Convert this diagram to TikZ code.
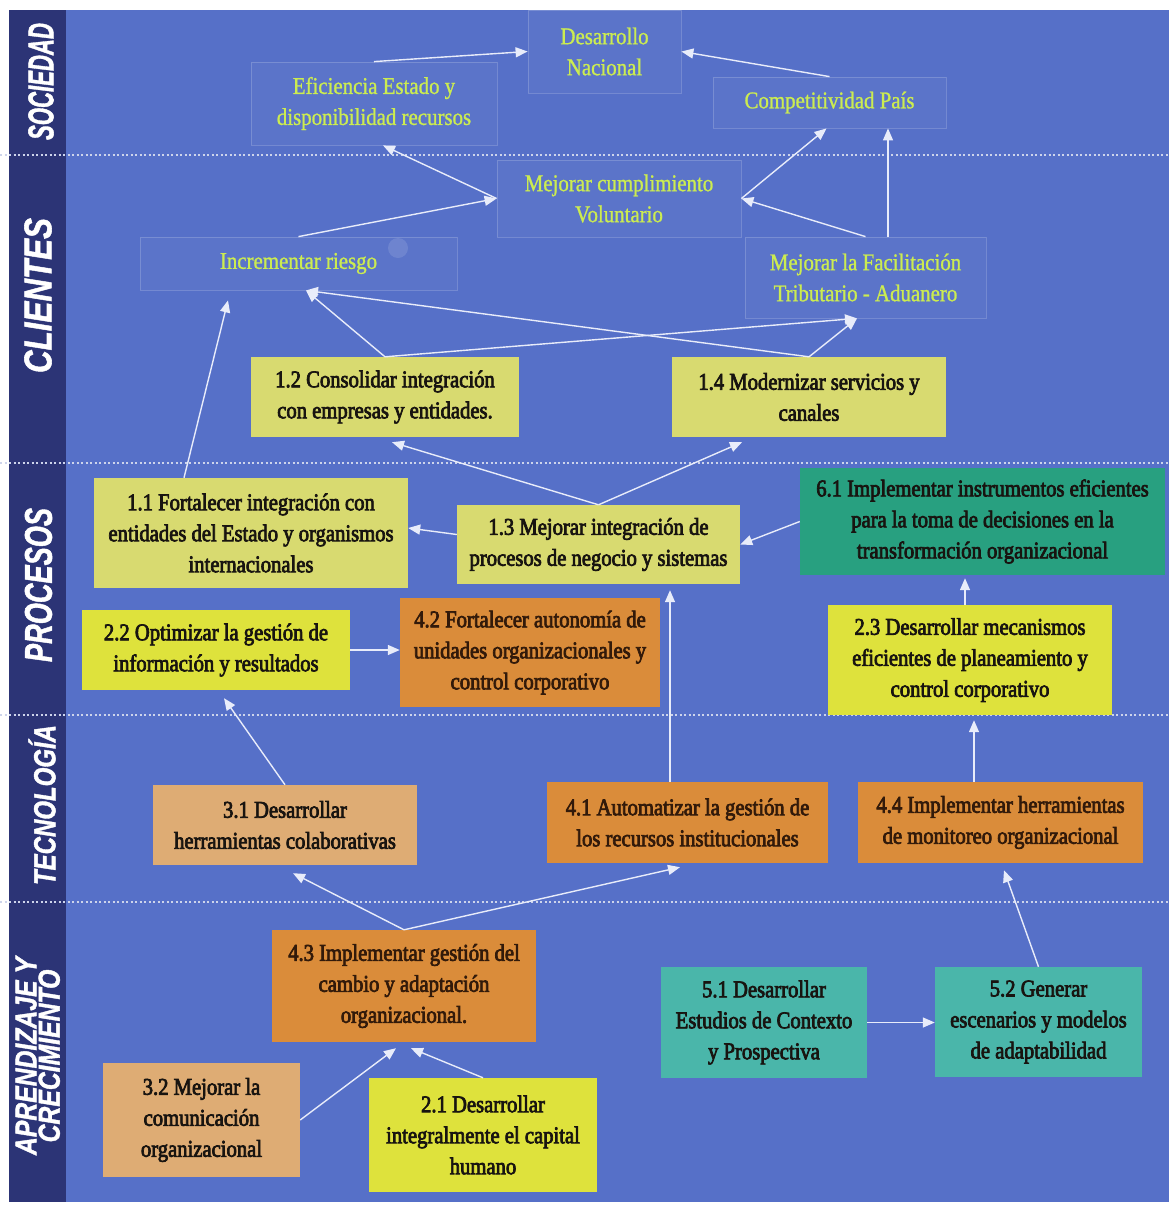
\documentclass[tikz,border=0pt]{standalone}
\usepackage{fontspec}
\usepackage{graphicx}
\usetikzlibrary{arrows.meta,calc}

\newfontfamily\boxfont[FakeStretch=0.86,FakeBold=3]{Liberation Serif}
\newfontfamily\goalfont[FakeStretch=0.87,FakeBold=1]{Liberation Serif}
\newfontfamily\lanefont[FakeBold=1.5]{Liberation Sans}

\definecolor{panelc}{RGB}{86,112,200}
\definecolor{navyc}{RGB}{44,52,118}
\definecolor{sepc}{RGB}{205,212,235}
\definecolor{limec}{RGB}{204,236,80}
\definecolor{khakic}{RGB}{216,218,112}
\definecolor{yellowc}{RGB}{222,226,60}
\definecolor{orangec}{RGB}{218,140,58}
\definecolor{tanc}{RGB}{222,172,116}
\definecolor{tealc}{RGB}{40,160,128}
\definecolor{aquac}{RGB}{74,182,170}
\definecolor{inkc}{RGB}{24,20,16}
\definecolor{brownc}{RGB}{50,26,10}
\definecolor{arrowc}{RGB}{232,236,250}

\tikzset{
  goal/.style={rectangle, inner sep=0pt, align=center,
    font=\goalfont\fontsize{24}{31}\selectfont, text=limec,
    draw=white, draw opacity=0.18, fill=white, fill opacity=0.03,
    text opacity=1, line width=0.8pt},
  obj/.style={rectangle, inner sep=0pt, align=center,
    font=\boxfont\fontsize{24}{31}\selectfont, text=inkc},
  sz/.style 2 args={minimum width=#1pt, minimum height=#2pt},
  link/.style={draw=arrowc, line width=1.4pt, -{Triangle[length=12pt,width=10pt]}},
  lanesep/.style={draw=sepc, line width=2pt, dash pattern=on 2pt off 2.5pt},
  lanelabel/.style={inner sep=0pt, rotate=90, text=white,
    font=\lanefont\bfseries\itshape\fontsize{30}{30}\selectfont}
}

\begin{document}
\begin{tikzpicture}[x=1pt, y=-1pt]
  \useasboundingbox (0,0) rectangle (1169,1205);
  \fill[white] (0,0) rectangle (1169,1205);

  % panel and perspective column
  \fill[panelc] (66,10) rectangle (1169,1202);
  \fill[navyc] (9,10) rectangle (66,1202);

  % lane separators
  \foreach \yy in {155,463,715,902}
    \draw[lanesep] (0,\yy) -- (1169,\yy);

  % perspective names
  \node[lanelabel] (lsoc) at (41,81.5) {\resizebox{117pt}{25pt}{SOCIEDAD}};
  \node[lanelabel] (lcli) at (38,295.5) {\resizebox{155pt}{27pt}{CLIENTES}};
  \node[lanelabel] (lpro) at (38.5,585) {\resizebox{154pt}{27pt}{PROCESOS}};
  \node[lanelabel] (ltec) at (42,805) {\resizebox{160pt}{27pt}{TECNOLOGÍA}};
  \node[lanelabel] (lapr) at (42,1056) {\resizebox{198pt}{33pt}{\begin{tabular}{@{}c@{}}APRENDIZAJE Y\\[-7pt]CRECIMIENTO\end{tabular}}};

  % soft spot near the risk box
  \fill[white, opacity=0.12] (398,248) circle (10);

  % society and client outcomes
  \node[goal, sz={153}{83}] (des) at (604.5,51.5) {Desarrollo\\Nacional};
  \node[goal, sz={246}{83}] (efi) at (374,103.5) {Eficiencia Estado y\\disponibilidad recursos};
  \node[goal, sz={233}{51}] (comp) at (829.5,102.5) {Competitividad País};
  \node[goal, sz={244}{77}] (mcv) at (619,198.5) {Mejorar cumplimiento\\Voluntario};
  \node[goal, sz={317}{53}] (inc) at (298.5,263.5) {Incrementar riesgo};
  \node[goal, sz={241}{81}] (fac) at (865.5,277.5) {Mejorar la Facilitación\\Tributario - Aduanero};

  % process objectives
  \node[obj, fill=khakic, sz={268}{80}] (n12) at (385,397) {1.2 Consolidar integración\\con empresas y entidades.};
  \node[obj, fill=khakic, sz={274}{80}] (n14) at (809,397) {1.4 Modernizar servicios y\\canales};
  \node[obj, fill=khakic, sz={314}{110}] (n11) at (251,533) {1.1 Fortalecer integración con\\entidades del Estado y organismos\\internacionales};
  \node[obj, fill=khakic, sz={283}{79}] (n13) at (598.5,544.5) {1.3 Mejorar integración de\\procesos de negocio y sistemas};
  \node[obj, fill=tealc, sz={365}{107}] (n61) at (982.5,521.5) {6.1 Implementar instrumentos eficientes\\para la toma de decisiones en la\\transformación organizacional};
  \node[obj, fill=yellowc, sz={268}{80}] (n22) at (216,650) {2.2 Optimizar la gestión de\\información y resultados};
  \node[obj, fill=orangec, text=brownc, sz={260}{109}] (n42) at (530,652.5) {4.2 Fortalecer autonomía de\\unidades organizacionales y\\control corporativo};
  \node[obj, fill=yellowc, sz={284}{110}] (n23) at (970,660) {2.3 Desarrollar mecanismos\\eficientes de planeamiento y\\control corporativo};

  % technology objectives
  \node[obj, fill=tanc, sz={264}{80}] (n31) at (285,825) {3.1 Desarrollar\\herramientas colaborativas};
  \node[obj, fill=orangec, text=brownc, sz={281}{81}] (n41) at (687.5,822.5) {4.1 Automatizar la gestión de\\los recursos institucionales};
  \node[obj, fill=orangec, text=brownc, sz={285}{81}] (n44) at (1000.5,822.5) {4.4 Implementar herramientas\\de monitoreo organizacional};

  % learning and growth objectives
  \node[obj, fill=orangec, text=brownc, sz={264}{112}] (n43) at (404,986) {4.3 Implementar gestión del\\cambio y adaptación\\organizacional.};
  \node[obj, fill=aquac, sz={206}{111}] (n51) at (764,1022.5) {5.1 Desarrollar\\Estudios de Contexto\\y Prospectiva};
  \node[obj, fill=aquac, sz={207}{110}] (n52) at (1038.5,1022) {5.2 Generar\\escenarios y modelos\\de adaptabilidad};
  \node[obj, fill=tanc, sz={197}{114}] (n32) at (201.5,1120) {3.2 Mejorar la\\comunicación\\organizacional};
  \node[obj, fill=yellowc, sz={228}{114}] (n21) at (483,1135) {2.1 Desarrollar\\integralmente el capital\\humano};

  % cause and effect links
  \draw[link] (efi.north) -- (des.west);
  \draw[link] (comp.north) -- (des.east);
  \draw[link] (mcv.west) -- ([xshift=9pt]efi.south);
  \draw[link] (inc.north) -- (mcv.west);
  \draw[link] (mcv.east) -- ([xshift=-3pt]comp.south);
  \draw[link] ([xshift=22.5pt]fac.north) -- ([xshift=58.5pt]comp.south);
  \draw[link] (fac.north) -- (mcv.east);

  \draw[link] ([xshift=-67pt]n11.north) -- ([xshift=-70.5pt,yshift=-10pt]inc.south);
  \draw[link] (n12.north) -- ([xshift=7.5pt]inc.south);
  \draw[link] (n14.north) -- ([xshift=7.5pt]inc.south);
  \draw[link] (n12.north) -- ([xshift=-8.5pt]fac.south);
  \draw[link] (n14.north) -- ([xshift=-8.5pt]fac.south);

  \draw[link] (n13.north) -- ([xshift=7pt,yshift=-5pt]n12.south);
  \draw[link] (n13.north) -- ([xshift=-67pt,yshift=-5pt]n14.south);
  \draw[link] ([yshift=10pt]n13.west) -- ([yshift=5pt]n11.east);
  \draw[link] (n61.west) -- (n13.east);
  \draw[link] ([xshift=-5pt]n23.north) -- ([xshift=-17.5pt,yshift=-3pt]n61.south);
  \draw[link] (n22.east) -- (n22.east -| n42.west);

  \draw[link] ([xshift=-17.5pt]n41.north) -- ([xshift=71.5pt,yshift=-6pt]n13.south);
  \draw[link] (n31.north) -- ([xshift=8pt,yshift=-8pt]n22.south);
  \draw[link] (n43.north) -- ([xshift=8pt,yshift=-8pt]n31.south);
  \draw[link] (n43.north) -- ([xshift=-7.5pt,yshift=-4pt]n41.south);
  \draw[link] ([xshift=-26.5pt]n44.north) -- ([xshift=4pt,yshift=-5pt]n23.south);
  \draw[link] (n52.north) -- ([xshift=3.5pt,yshift=-7pt]n44.south);
  \draw[link] (n51.east) -- (n51.east -| n52.west);
  \draw[link] (n32.east) -- ([xshift=-8pt,yshift=-6pt]n43.south);
  \draw[link] (n21.north) -- ([xshift=7pt,yshift=-6pt]n43.south);
\end{tikzpicture}
\end{document}
